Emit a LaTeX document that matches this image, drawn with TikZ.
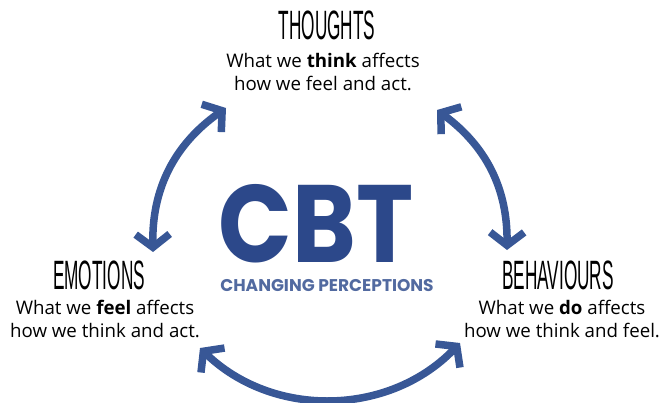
\documentclass[tikz,border=0pt]{standalone}
\usepackage{fontspec}
\setmainfont{Open Sans}
\newfontfamily\titlefont[FakeStretch=0.42]{Liberation Sans}
\newfontfamily\logofont[FakeStretch=0.88]{Poppins}
\newfontfamily\sublogofont{Poppins}
\usetikzlibrary{arrows.meta}
\definecolor{arrowblue}{RGB}{56,87,150}
\definecolor{logoblue}{RGB}{44,72,138}
\definecolor{sublogo}{RGB}{82,106,160}
\tikzset{
  title/.style={font=\titlefont\fontsize{41}{41}\selectfont, anchor=base, inner sep=0pt},
  body/.style={font=\fontsize{18.7}{23}\selectfont, align=center, anchor=base, inner sep=0pt},
  cyc/.style={draw=arrowblue, line width=7.5pt, {Straight Barb[length=13pt,width=34pt]}-{Straight Barb[length=13pt,width=34pt]}},
}
\begin{document}
\begin{tikzpicture}[x=1pt,y=-1pt]
\useasboundingbox (0,0) rectangle (663,403);
% titles
\node[title] (tt) at (327,40) {THOUGHTS};
\node[title] (te) at (99,289) {EMOTIONS};
\node[title] (tb) at (558,289) {BEHAVIOURS};
% bodies (anchor = baseline of last line)
\node[body] (bt) at (323,91) {What we \textbf{think} affects\\how we feel and act.};
\node[body] (be) at (105,337) {What we \textbf{feel} affects\\how we think and act.};
\node[body] (bb) at (562,337) {What we \textbf{do} affects\\how we think and feel.};
% logo
\node[font=\logofont\bfseries\fontsize{110}{110}\selectfont, text=logoblue, anchor=base, inner sep=0pt, text depth=0pt] (cbt) at (316,262) {CBT};
\node[font=\sublogofont\bfseries\fontsize{17}{17}\selectfont, text=sublogo, anchor=base, inner sep=0pt] (cp) at (327,291) {CHANGING PERCEPTIONS};
% arrow ends
\coordinate (a1) at (153,252);
\coordinate (a2) at (226,108);
\coordinate (b1) at (437,110);
\coordinate (b2) at (507,250);
\coordinate (c1) at (200,348);
\coordinate (c2) at (460,343);
\draw[cyc] (a1) to[bend left=28] (a2);
\draw[cyc] (b1) to[bend left=27] (b2);
\draw[cyc] (c1) to[bend right=45] (c2);
\end{tikzpicture}
\end{document}
